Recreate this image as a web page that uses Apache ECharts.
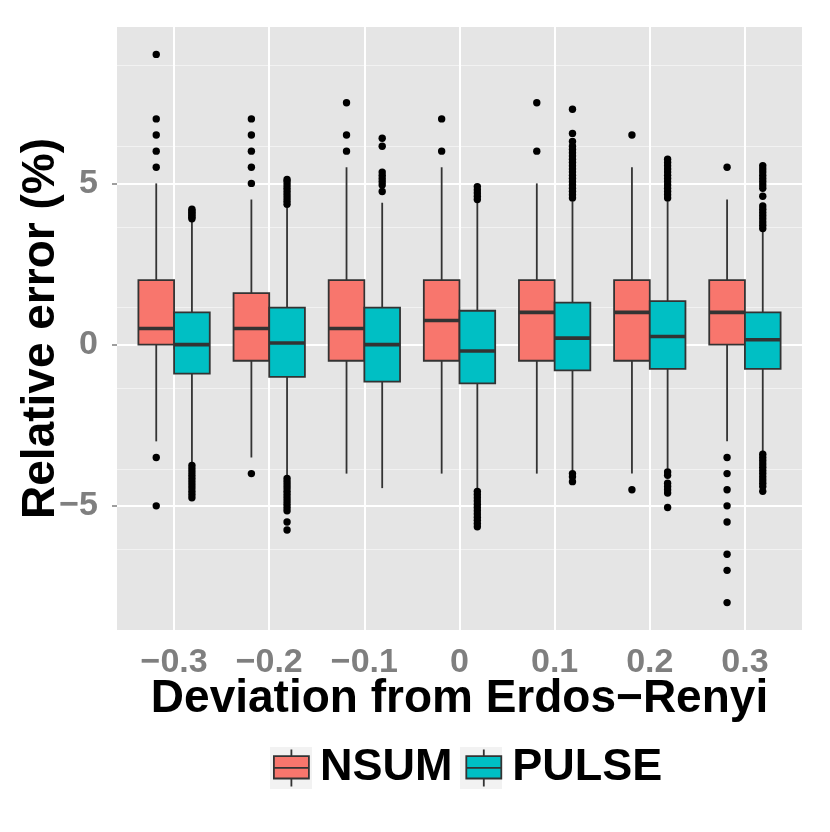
<!DOCTYPE html>
<html>
<head>
<meta charset="utf-8">
<script src="https://cdn.jsdelivr.net/npm/echarts@6/dist/echarts.min.js"></script>
<style>html,body{margin:0;padding:0;background:#fff}#c{width:830px;height:832px}</style>
</head>
<body>
<div id="c"></div>
<script>
// ---------- data ----------
const categories = ['\u22120.3', '\u22120.2', '\u22120.1', '0', '0.1', '0.2', '0.3'];
const yTicks = [-5, 0, 5];
const seriesNames = ['NSUM', 'PULSE'];

// [lower whisker, Q1, median, Q3, upper whisker] per category
const nsumBox = [
  [-3.0, 0.0, 0.5, 2.0, 5.0],
  [-3.5, -0.5, 0.5, 1.6, 4.5],
  [-4.0, -0.5, 0.5, 2.0, 5.5],
  [-4.0, -0.5, 0.75, 2.0, 5.5],
  [-4.0, -0.5, 1.0, 2.0, 5.0],
  [-4.0, -0.5, 1.0, 2.0, 5.5],
  [-3.0, 0.0, 1.0, 2.0, 4.5]
];
const pulseBox = [
  [-3.7, -0.9, 0.0, 1.0, 3.8],
  [-4.1, -1.0, 0.05, 1.15, 4.25],
  [-4.45, -1.15, 0.0, 1.15, 4.4],
  [-4.45, -1.2, -0.2, 1.05, 4.4],
  [-3.9, -0.8, 0.2, 1.3, 4.45],
  [-3.85, -0.75, 0.25, 1.35, 4.45],
  [-3.35, -0.75, 0.15, 1.0, 3.55]
];
// outliers per category
const nsumOutliers = [
  [9, 7, 6.5, 6, 5.5, -3.5, -5],
  [7, 6.5, 6, 5.5, 5, -4],
  [7.5, 6.5, 6],
  [7, 6],
  [7.5, 6],
  [6.5, -4.5],
  [5.5, -3.5, -4, -4.5, -5, -5.5, -6.5, -7, -8]
];
const pulseOutliers = [
  [3.9, 3.95, 4.0, 4.05, 4.1, 4.15, 4.2,
   -3.75, -3.85, -3.95, -4.05, -4.15, -4.25, -4.35, -4.45, -4.55, -4.65, -4.75],
  [4.35, 4.45, 4.55, 4.65, 4.75, 4.85, 4.95, 5.05, 5.12,
   -4.15, -4.25, -4.35, -4.45, -4.55, -4.65, -4.75, -4.85, -4.95, -5.05, -5.15, -5.5, -5.75],
  [6.4, 6.15, 5.35, 5.25, 5.15, 5.05, 4.95, 4.75],
  [4.5, 4.6, 4.7, 4.8, 4.9,
   -4.55, -4.65, -4.75, -4.85, -4.95, -5.05, -5.15, -5.25, -5.35, -5.45, -5.55, -5.65],
  [7.3, 6.55, 6.3, 6.15, 6.05, 5.95, 5.85, 5.75, 5.65, 5.55, 5.45, 5.35, 5.25, 5.15, 5.05, 4.95, 4.85, 4.75, 4.65, 4.55,
   -4.0, -4.1, -4.25],
  [5.75, 5.65, 5.55, 5.45, 5.35, 5.25, 5.15, 5.05, 4.95, 4.85, 4.75, 4.65, 4.55,
   -3.95, -4.05, -4.3, -4.4, -4.5, -4.6, -5.05],
  [5.55, 5.45, 5.35, 5.25, 5.15, 5.05, 4.95, 4.85, 4.6, 4.3, 4.2, 4.1, 4.0, 3.9, 3.8, 3.7, 3.6,
   -3.4, -3.5, -3.6, -3.7, -3.8, -3.9, -4.0, -4.1, -4.2, -4.3, -4.4, -4.55]
];

// ---------- styling ----------
const COLORS = ['#F8766D', '#00BFC4'];
const FONT = "'Liberation Sans', Arial, Helvetica, sans-serif";
const GREY = '#7F7F7F';
const DODGE = 0.1875; // fraction of a category unit

function boxRenderer(side, fill) {
  return function (params, api) {
    const idx = api.value(0);
    const unit = api.size([1, 0])[0];
    const half = unit * DODGE;
    const cx = api.coord([idx, 0])[0] + side * half;
    const y = v => api.coord([idx, v])[1];
    const lo = y(api.value(1)), q1 = y(api.value(2)), md = y(api.value(3)),
          q3 = y(api.value(4)), hi = y(api.value(5));
    const ls = { stroke: '#333333', lineWidth: 1.8 };
    return {
      type: 'group',
      children: [
        { type: 'line', shape: { x1: cx, y1: hi, x2: cx, y2: q3 }, style: ls },
        { type: 'line', shape: { x1: cx, y1: q1, x2: cx, y2: lo }, style: ls },
        { type: 'rect', shape: { x: cx - half, y: q3, width: 2 * half, height: q1 - q3 },
          style: { fill: fill, stroke: '#333333', lineWidth: 1.8 } },
        { type: 'line', shape: { x1: cx - half, y1: md, x2: cx + half, y2: md },
          style: { stroke: '#333333', lineWidth: 3.6 } }
      ]
    };
  };
}
function outlierRenderer(side) {
  return function (params, api) {
    const idx = api.value(0);
    const unit = api.size([1, 0])[0];
    const p = api.coord([idx, api.value(1)]);
    return { type: 'circle', shape: { cx: p[0] + side * unit * DODGE, cy: p[1], r: 3.7 },
             style: { fill: '#000000' } };
  };
}
const boxData = arr => arr.map((b, i) => [i].concat(b));
const outData = arr => arr.flatMap((vals, i) => vals.map(v => [i, v]));
const catIdx = categories.map((c, i) => i);

const YMIN = -8.85, YMAX = 9.85;
const iconPath = 'path://M17.5 0 L17.5 6.7 M0 6.7 L35 6.7 L35 29 L0 29 Z M0 18.3 L35 18.3 M17.5 29 L17.5 37';

const option = {
  animation: false,
  backgroundColor: '#ffffff',
  textStyle: { fontFamily: FONT },
  grid: { left: 117, top: 27, width: 685, height: 603, show: true,
          backgroundColor: '#E5E5E5', borderWidth: 0 },
  xAxis: {
    type: 'value', min: -0.6, max: 6.6, interval: 1,
    axisLine: { show: false },
    axisTick: { show: true, length: 5, customValues: catIdx,
                lineStyle: { color: GREY, width: 1.5 } },
    axisLabel: { customValues: catIdx,
                 formatter: v => categories[Math.round(v)] || '',
                 color: GREY, fontSize: 34, fontWeight: 'bold', fontFamily: FONT, margin: 16 },
    splitLine: { show: true, lineStyle: { color: '#ffffff', width: 2 } },
    name: 'Deviation from Erdos\u2212Renyi', nameLocation: 'middle', nameGap: 46,
    nameMoveOverlap: false,
    nameTextStyle: { color: '#000', fontSize: 46, fontWeight: 'bold', fontFamily: FONT }
  },
  yAxis: [
    { // minor grid lines
      type: 'value', min: YMIN, max: YMAX, interval: 2.5, position: 'left',
      axisLine: { show: false }, axisTick: { show: false }, axisLabel: { show: false },
      splitLine: { show: true, showMinLine: false, showMaxLine: false,
                   lineStyle: { color: '#F2F2F2', width: 1 } }
    },
    { // major axis
      type: 'value', min: YMIN, max: YMAX, interval: 5, position: 'left',
      axisLine: { show: false },
      axisTick: { show: true, length: 5, customValues: yTicks, lineStyle: { color: GREY, width: 1.5 } },
      axisLabel: { customValues: yTicks,
                   formatter: v => (v < 0 ? '\u2212' + Math.abs(v) : String(v)),
                   color: GREY, fontSize: 34, fontWeight: 'bold', fontFamily: FONT, margin: 19 },
      splitLine: { show: true, lineStyle: { color: '#ffffff', width: 2 } },
      name: 'Relative error (%)', nameLocation: 'middle', nameGap: 53,
      nameMoveOverlap: false,
      nameTextStyle: { color: '#000', fontSize: 46, fontWeight: 'bold', fontFamily: FONT }
    }
  ],
  legend: {
    left: 273, top: 745, padding: 0, itemGap: 13, itemWidth: 35, itemHeight: 37,
    selectedMode: false,
    textStyle: { color: '#000', fontSize: 45, fontWeight: 'bold', fontFamily: FONT,
                 lineHeight: 46, padding: [0, 0, 0, 6] },
    data: seriesNames.map((n, i) => ({
      name: n, icon: iconPath,
      itemStyle: { color: COLORS[i], borderColor: '#333333', borderWidth: 1.8 }
    }))
  },
  graphic: [
    { type: 'rect', left: 270, top: 747, z: -1, shape: { width: 42, height: 42 }, style: { fill: '#F2F2F2' } },
    { type: 'rect', left: 460, top: 747, z: -1, shape: { width: 42, height: 42 }, style: { fill: '#F2F2F2' } }
  ],
  series: [
    { name: seriesNames[0], type: 'custom', yAxisIndex: 1, itemStyle: { color: COLORS[0] },
      encode: { x: 0, y: [1, 2, 3, 4, 5] },
      renderItem: boxRenderer(-1, COLORS[0]), data: boxData(nsumBox) },
    { name: seriesNames[1], type: 'custom', yAxisIndex: 1, itemStyle: { color: COLORS[1] },
      encode: { x: 0, y: [1, 2, 3, 4, 5] },
      renderItem: boxRenderer(1, COLORS[1]), data: boxData(pulseBox) },
    { name: seriesNames[0] + ' outliers', type: 'custom', yAxisIndex: 1,
      encode: { x: 0, y: 1 }, renderItem: outlierRenderer(-1), data: outData(nsumOutliers) },
    { name: seriesNames[1] + ' outliers', type: 'custom', yAxisIndex: 1,
      encode: { x: 0, y: 1 }, renderItem: outlierRenderer(1), data: outData(pulseOutliers) }
  ]
};
const chart = echarts.init(document.getElementById('c'), null, { renderer: 'canvas' });
chart.setOption(option);
</script>
</body>
</html>
